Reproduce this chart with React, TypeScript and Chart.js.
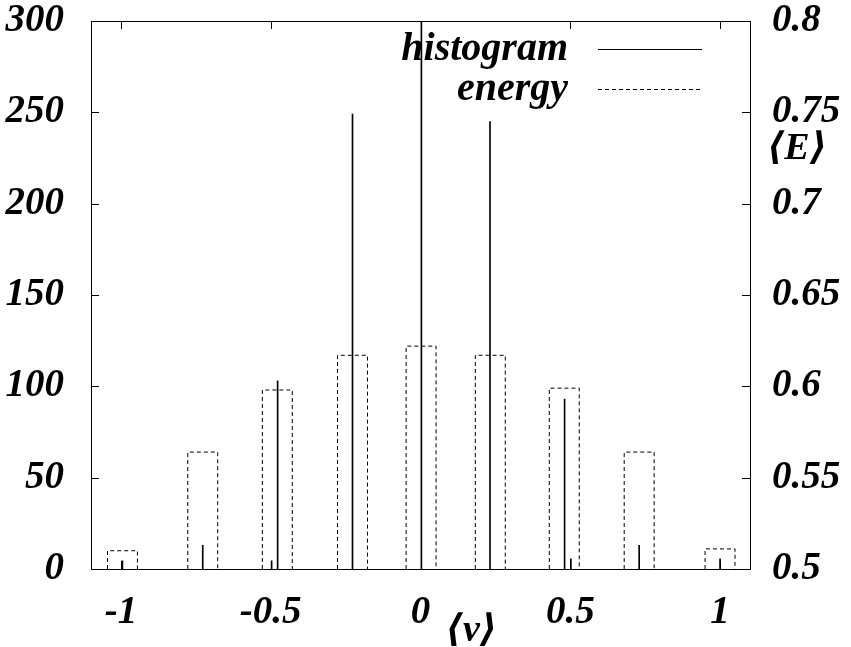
import React, { useEffect, useRef } from 'react';
import { Chart, registerables } from 'chart.js';

Chart.register(...registerables);

// ---- data ----
const HIST_X = [-0.995, -0.727, -0.497, -0.477, -0.227, 0.003, 0.232, 0.481, 0.502, 0.73, 1.0];
const HIST_Y = [4.5, 13, 4.5, 103, 249, 300, 245, 93, 5.5, 13, 5.5];
const ENERGY_X = [-0.995, -0.727, -0.478, -0.227, 0.002, 0.233, 0.48, 0.73, 1.0];
const ENERGY_Y = [0.51, 0.564, 0.598, 0.617, 0.622, 0.617, 0.599, 0.564, 0.511];
const X_TICKS = [-1, -0.5, 0, 0.5, 1];
const X_TICK_LABELS = ['-1', '-0.5', '0', '0.5', '1'];
const Y_LEFT_TICKS = [0, 50, 100, 150, 200, 250, 300];
const Y_LEFT_LABELS = ['0', '50', '100', '150', '200', '250', '300'];
const Y_RIGHT_TICKS = [0.5, 0.55, 0.6, 0.65, 0.7, 0.75, 0.8];
const Y_RIGHT_LABELS = ['0.5', '0.55', '0.6', '0.65', '0.7', '0.75', '0.8'];
const LEGEND_LABELS = ['histogram', 'energy'];
const X_TITLE = '\u27E8v\u27E9';
const Y_RIGHT_TITLE = '\u27E8E\u27E9';

const BOX_HALF_WIDTH = 0.05;
const FONT_FAMILY = "'Liberation Serif', 'Times New Roman', 'DejaVu Serif', serif";

function buildEnergyOutline() {
  const base = Y_RIGHT_TICKS[0];
  const pts: { x: number; y: number | null }[] = [];
  ENERGY_X.forEach((x, i) => {
    pts.push({ x: x - BOX_HALF_WIDTH, y: base });
    pts.push({ x: x - BOX_HALF_WIDTH, y: ENERGY_Y[i] });
    pts.push({ x: x + BOX_HALF_WIDTH, y: ENERGY_Y[i] });
    pts.push({ x: x + BOX_HALF_WIDTH, y: base });
    pts.push({ x: x + BOX_HALF_WIDTH, y: null });
  });
  return pts;
}

const decorPlugin = {
  id: 'gnuplotDecor',
  afterDraw(chart: any) {
    const { ctx, chartArea } = chart;
    const { left, right, top, bottom } = chartArea;
    const xs = chart.scales.x;
    const ys = chart.scales.y;
    const y1 = chart.scales.y1;
    ctx.save();
    ctx.strokeStyle = '#000';
    ctx.lineWidth = 1;
    ctx.setLineDash([]);
    // frame
    ctx.strokeRect(Math.round(left) + 0.5, Math.round(top) + 0.5, Math.round(right - left), Math.round(bottom - top));
    const TL = 8;
    ctx.beginPath();
    X_TICKS.forEach((v) => {
      const px = Math.round(xs.getPixelForValue(v)) + 0.5;
      ctx.moveTo(px, bottom);
      ctx.lineTo(px, bottom - TL);
      ctx.moveTo(px, top);
      ctx.lineTo(px, top + TL);
    });
    Y_LEFT_TICKS.forEach((v) => {
      const py = Math.round(ys.getPixelForValue(v)) + 0.5;
      ctx.moveTo(left, py);
      ctx.lineTo(left + TL, py);
    });
    Y_RIGHT_TICKS.forEach((v) => {
      const py = Math.round(y1.getPixelForValue(v)) + 0.5;
      ctx.moveTo(right, py);
      ctx.lineTo(right - TL, py);
    });
    ctx.stroke();

    // legend
    ctx.fillStyle = '#000';
    ctx.font = `italic bold 40px ${FONT_FAMILY}`;
    ctx.textAlign = 'right';
    ctx.textBaseline = 'alphabetic';
    const rows = [top + 28, top + 68];
    LEGEND_LABELS.forEach((label, i) => {
      const ry = rows[i];
      ctx.fillText(label, right - 182, ry + 11);
      ctx.beginPath();
      ctx.setLineDash(i === 0 ? [] : [4, 3]);
      ctx.moveTo(right - 152, Math.round(ry) + 0.5);
      ctx.lineTo(right - 48, Math.round(ry) + 0.5);
      ctx.stroke();
    });
    ctx.setLineDash([]);

    // axis titles
    ctx.font = `italic bold 38px ${FONT_FAMILY}`;
    ctx.textAlign = 'center';
    ctx.textBaseline = 'middle';
    ctx.fillText(X_TITLE, xs.getPixelForValue(0.17), bottom + 62);
    ctx.fillText(Y_RIGHT_TITLE, right + 47, y1.getPixelForValue(0.73));
    ctx.restore();
  },
};

export default function App() {
  const ref = useRef<HTMLCanvasElement | null>(null);

  useEffect(() => {
    if (!ref.current) return;
    const tickFont = { family: FONT_FAMILY, size: 39, style: 'italic' as const, weight: 'bold' as const, lineHeight: 1 };
    const noPadV = (s: any) => {
      s.paddingTop = 0;
      s.paddingBottom = 0;
    };
    const chart = new Chart(ref.current, {
      type: 'bar',
      data: {
        datasets: [
          {
            type: 'bar',
            label: LEGEND_LABELS[0],
            data: HIST_X.map((x, i) => ({ x, y: HIST_Y[i] })),
            backgroundColor: '#000',
            borderWidth: 0,
            barThickness: 1,
            yAxisID: 'y',
            xAxisID: 'x',
          } as any,
          {
            type: 'line',
            label: LEGEND_LABELS[1],
            data: buildEnergyOutline(),
            borderColor: '#000',
            borderWidth: 1,
            borderDash: [4, 3],
            pointRadius: 0,
            fill: false,
            tension: 0,
            spanGaps: false,
            yAxisID: 'y1',
            xAxisID: 'x',
          } as any,
        ],
      },
      options: {
        responsive: false,
        animation: false,
        events: [],
        layout: { padding: { top: 21, left: 0, right: 0, bottom: 0 } },
        plugins: {
          legend: { display: false },
          tooltip: { enabled: false },
          title: { display: false },
        },
        scales: {
          x: {
            type: 'linear',
            position: 'bottom',
            min: -1.1,
            max: 1.1,
            offset: false,
            grid: { display: false, offset: false },
            border: { display: false },
            afterBuildTicks: (s: any) => {
              s.ticks = X_TICKS.map((v) => ({ value: v }));
            },
            afterFit: (s: any) => {
              s.height = 78;
              s.paddingLeft = 0;
              s.paddingRight = 0;
            },
            ticks: {
              autoSkip: false,
              maxRotation: 0,
              minRotation: 0,
              padding: 16,
              color: '#000',
              font: tickFont,
              callback: (_v: any, i: number) => X_TICK_LABELS[i],
            },
          },
          y: {
            type: 'linear',
            position: 'left',
            min: 0,
            max: 300,
            grid: { display: false },
            border: { display: false },
            afterBuildTicks: (s: any) => {
              s.ticks = Y_LEFT_TICKS.map((v) => ({ value: v }));
            },
            afterFit: (s: any) => {
              s.width = 91;
              noPadV(s);
            },
            ticks: {
              padding: 19,
              color: '#000',
              font: tickFont,
              callback: (_v: any, i: number) => Y_LEFT_LABELS[i],
            },
          },
          y1: {
            type: 'linear',
            position: 'right',
            min: 0.5,
            max: 0.8,
            grid: { display: false },
            border: { display: false },
            afterBuildTicks: (s: any) => {
              s.ticks = Y_RIGHT_TICKS.map((v) => ({ value: v }));
            },
            afterFit: (s: any) => {
              s.width = 101;
              noPadV(s);
            },
            ticks: {
              padding: 14,
              color: '#000',
              font: tickFont,
              callback: (_v: any, i: number) => Y_RIGHT_LABELS[i],
            },
          },
        },
      } as any,
      plugins: [decorPlugin],
    });
    return () => chart.destroy();
  }, []);

  return (
    <div style={{ position: 'fixed', left: 0, top: 0, width: 851, height: 647, background: '#fff' }}>
      <canvas ref={ref} width={851} height={647} style={{ display: 'block' }} />
    </div>
  );
}
